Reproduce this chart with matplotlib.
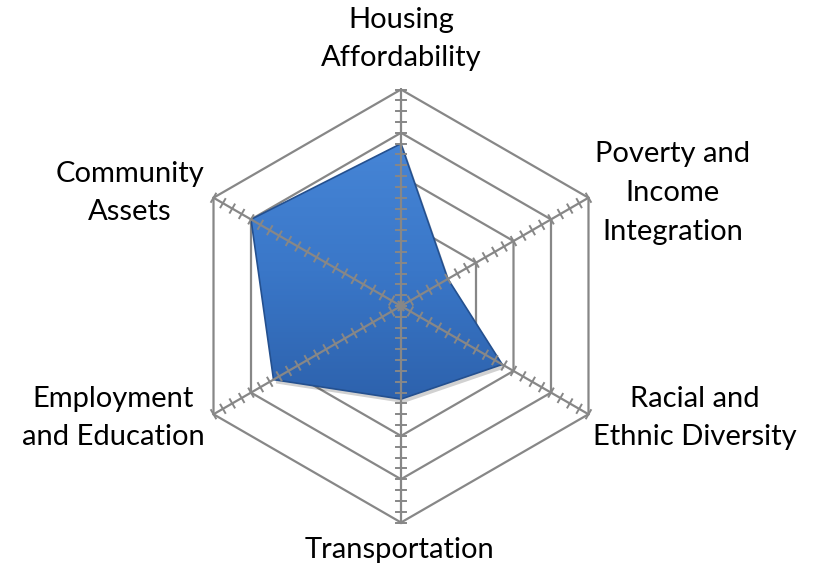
import numpy as np
import matplotlib
matplotlib.use("Agg")
import matplotlib.pyplot as plt
from matplotlib.patches import Polygon
from matplotlib.colors import LinearSegmentedColormap

# data (scale 0..5, minor step 0.25)
categories = ["Housing\nAffordability", "Poverty and\nIncome\nIntegration",
              "Racial and\nEthnic Diversity", "Transportation",
              "Employment\nand Education", "Community\nAssets"]
values = [3.75, 1.25, 2.7, 2.15, 3.4, 4.0]
levels = [1, 2, 3, 4, 5]
rmax = 5
minor_step = 0.25

W, H = 817, 570
cx, cy = 401, 306          # centre in pixels
unit = 43.3                 # pixels per unit

fig = plt.figure(figsize=(W / 100, H / 100), dpi=100)
ax = fig.add_axes([0, 0, 1, 1])
ax.axis("off")

n = len(categories)
angles = np.deg2rad(90 - 60 * np.arange(n))
grid_col = "#878787"

# hexagon gridlines
for lv in levels:
    xs = lv * np.cos(angles)
    ys = lv * np.sin(angles)
    ax.plot(np.append(xs, xs[0]), np.append(ys, ys[0]), color=grid_col, lw=1.6, zorder=1)

# data polygon with gradient + shadow
px = np.array(values) * np.cos(angles)
py = np.array(values) * np.sin(angles)
pts = np.column_stack([px, py])
shadow = Polygon(pts + np.array([0.06, -0.09]), closed=True, fc="#000000", alpha=0.18,
                 ec="none", zorder=2)
ax.add_patch(shadow)
poly = Polygon(pts, closed=True, fc="none", ec="#24508f", lw=1.2, zorder=4)
ax.add_patch(poly)
cmap = LinearSegmentedColormap.from_list("blu", ["#2d62ad", "#3a77c8", "#4685d6"])
grad = np.linspace(0, 1, 256).reshape(-1, 1)
img = ax.imshow(grad, cmap=cmap, origin="lower", aspect="auto",
                extent=[px.min(), px.max(), py.min(), py.max()], zorder=3)
clip = Polygon(pts, closed=True, transform=ax.transData)
img.set_clip_path(clip)

# spokes with ticks
tick_half = 0.11
for a in angles:
    ax.plot([0, rmax * np.cos(a)], [0, rmax * np.sin(a)], color=grid_col, lw=1.6, zorder=5)
    perp = np.array([-np.sin(a), np.cos(a)])
    for r in np.arange(0, rmax + 1e-9, minor_step):
        c = np.array([r * np.cos(a), r * np.sin(a)])
        p0 = c - perp * tick_half
        p1 = c + perp * tick_half
        ax.plot([p0[0], p1[0]], [p0[1], p1[1]], color=grid_col, lw=1.4, zorder=5)

ax.set_xlim(-cx / unit, (W - cx) / unit)
ax.set_ylim(-(H - cy) / unit, cy / unit)

# category labels (pixel positions converted to data units)
label_px = [(401, 39), (673, 193), (695, 418), (400, 550), (113, 418), (130, 193)]
for lab, (lx, ly) in zip(categories, label_px):
    ax.text((lx - cx) / unit, (cy - ly) / unit, lab, ha="center", va="center",
            fontsize=21, family="Lato", linespacing=1.6, color="#000000")

fig.savefig("out.png", dpi=100)
